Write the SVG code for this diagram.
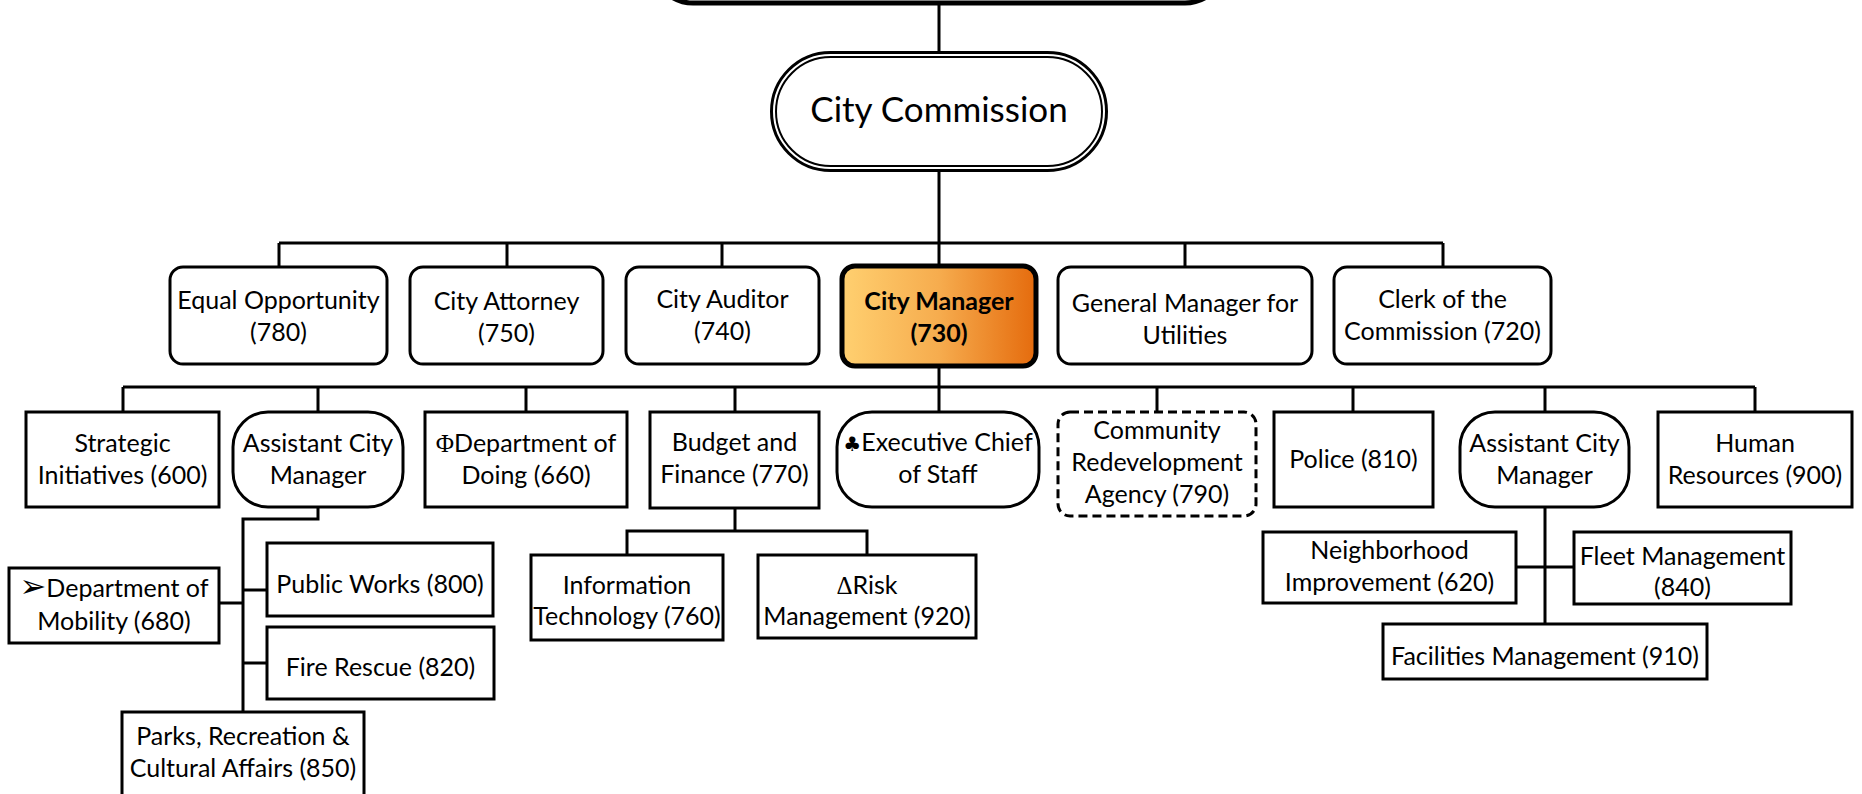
<svg xmlns="http://www.w3.org/2000/svg" width="1862" height="794" viewBox="0 0 1862 794">
<defs>
<linearGradient id="cmGrad" x1="0" y1="0" x2="1" y2="0">
<stop offset="0" stop-color="#FFD070"/>
<stop offset="0.5" stop-color="#F6AC4E"/>
<stop offset="1" stop-color="#E56B0D"/>
</linearGradient>
<style>
.box{fill:#fff;stroke:#000;stroke-width:3}
.dash{stroke-dasharray:9 5}
.conn{fill:none;stroke:#000;stroke-width:3}
text{font-family:Lato,"DejaVu Sans",sans-serif;font-size:25px;text-anchor:middle;fill:#000;transform:translateY(1.5px)}
.sym{font-family:"Liberation Serif","DejaVu Serif",serif}
.dv{font-family:"DejaVu Sans",sans-serif;font-size:20px}
.arr{font-family:"DejaVu Sans",sans-serif;font-size:32px}
</style>
</defs>
<g id="connectors">
<path class="conn" d="M939 3V52M939 172V266M279 243H1443M279 243V267M507 243V267M722 243V267M1185 243V267M1443 243V267"/>
<path class="conn" d="M939 366V412M123 387H1755M123 387V412M318 387V412M526 387V412M735 387V412M1157 387V412M1353 387V412M1545 387V412M1755 387V412"/>
<path class="conn" d="M318 507V519H243V712M219 603H243M243 590H267M243 663H267"/>
<path class="conn" d="M735 508V531M627 555V531H867V555"/>
<path class="conn" d="M1545 507V624M1516 567H1574"/>
</g>
<g id="top-node"><rect x="653" y="-150" width="572" height="153" rx="40" fill="#fff" stroke="#000" stroke-width="5"/></g>
<g id="city-commission">
<rect x="771.5" y="52.5" width="335" height="118" rx="59" fill="#fff" stroke="#000" stroke-width="3"/>
<rect x="776" y="57" width="326" height="109" rx="54.5" fill="none" stroke="#000" stroke-width="2"/>
<text x="939" y="120" style="font-size:35px">City Commission</text>
</g>
<g id="equal-opportunity"><rect class="box" x="170" y="267" width="217" height="97" rx="13"/><text x="278.5" y="307">Equal Opportunity</text><text x="278.5" y="339">(780)</text></g>
<g id="city-attorney"><rect class="box" x="410" y="267" width="193" height="97" rx="13"/><text x="506.5" y="308">City Attorney</text><text x="506.5" y="340">(750)</text></g>
<g id="city-auditor"><rect class="box" x="626" y="267" width="193" height="97" rx="13"/><text x="722.5" y="306">City Auditor</text><text x="722.5" y="338">(740)</text></g>
<g id="city-manager"><rect x="842" y="266" width="194" height="100" rx="13" fill="url(#cmGrad)" stroke="#000" stroke-width="5"/><text x="939" y="308" font-weight="bold">City Manager</text><text x="939" y="340" font-weight="bold">(730)</text></g>
<g id="general-manager"><rect class="box" x="1058" y="267" width="254" height="97" rx="13"/><text x="1185" y="310">General Manager for</text><text x="1185" y="342">Utilities</text></g>
<g id="clerk"><rect class="box" x="1334" y="267" width="217" height="97" rx="13"/><text x="1442.5" y="306">Clerk of the</text><text x="1442.5" y="338">Commission (720)</text></g>
<g id="strategic-initiatives"><rect class="box" x="26" y="412" width="193" height="95"/><text x="122.5" y="450">Strategic</text><text x="122.5" y="482">Initiatives (600)</text></g>
<g id="acm-left"><rect class="box" x="233" y="412" width="170" height="95" rx="35"/><text x="318" y="450">Assistant City</text><text x="318" y="482">Manager</text></g>
<g id="dept-doing"><rect class="box" x="425" y="412" width="202" height="95"/><text x="526" y="450"><tspan class="sym">Φ</tspan>Department of</text><text x="526" y="482">Doing (660)</text></g>
<g id="budget-finance"><rect class="box" x="650" y="412" width="169" height="96"/><text x="734.5" y="449">Budget and</text><text x="734.5" y="481">Finance (770)</text></g>
<g id="exec-chief"><rect class="box" x="837" y="412" width="202" height="95" rx="35"/><text x="938" y="449"><tspan class="dv">♣</tspan>Executive Chief</text><text x="938" y="481">of Staff</text></g>
<g id="cra"><rect class="box dash" x="1058" y="412" width="198" height="104" rx="12"/><text x="1157" y="437">Community</text><text x="1157" y="469">Redevelopment</text><text x="1157" y="501">Agency (790)</text></g>
<g id="police"><rect class="box" x="1274" y="412" width="159" height="95"/><text x="1353.5" y="466">Police (810)</text></g>
<g id="acm-right"><rect class="box" x="1460" y="412" width="169" height="95" rx="35"/><text x="1544.5" y="450">Assistant City</text><text x="1544.5" y="482">Manager</text></g>
<g id="human-resources"><rect class="box" x="1658" y="412" width="194" height="95"/><text x="1755" y="450">Human</text><text x="1755" y="482">Resources (900)</text></g>
<g id="dept-mobility"><rect class="box" x="9" y="568" width="210" height="75"/><text x="114" y="595"><tspan class="arr">➢</tspan>Department of</text><text x="114" y="628">Mobility (680)</text></g>
<g id="public-works"><rect class="box" x="267" y="543" width="226" height="73"/><text x="380" y="591">Public Works (800)</text></g>
<g id="fire-rescue"><rect class="box" x="267" y="627" width="227" height="72"/><text x="380.5" y="674">Fire Rescue (820)</text></g>
<g id="parks"><rect class="box" x="122" y="712" width="242" height="100"/><text x="243" y="743">Parks, Recreation &amp;</text><text x="243" y="775">Cultural Affairs (850)</text></g>
<g id="info-tech"><rect class="box" x="531" y="555" width="192" height="85"/><text x="627" y="592">Information</text><text x="627" y="623">Technology (760)</text></g>
<g id="risk-mgmt"><rect class="box" x="758" y="555" width="218" height="83"/><text x="867" y="592"><tspan class="sym">Δ</tspan>Risk</text><text x="867" y="623">Management (920)</text></g>
<g id="neighborhood"><rect class="box" x="1263" y="532" width="253" height="71"/><text x="1389.5" y="557">Neighborhood</text><text x="1389.5" y="589">Improvement (620)</text></g>
<g id="fleet"><rect class="box" x="1574" y="532" width="217" height="72"/><text x="1682.5" y="563">Fleet Management</text><text x="1682.5" y="594">(840)</text></g>
<g id="facilities"><rect class="box" x="1383" y="624" width="324" height="55"/><text x="1545" y="663">Facilities Management (910)</text></g>
</svg>
